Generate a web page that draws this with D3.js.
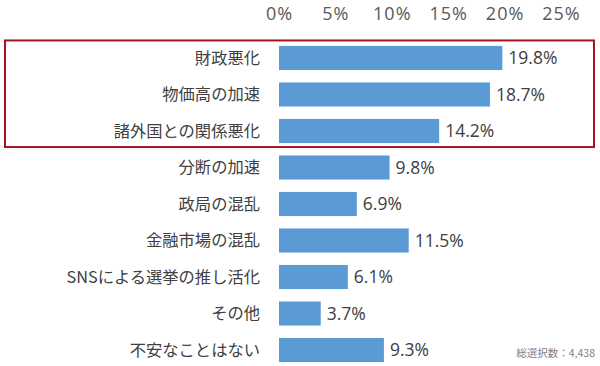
<!DOCTYPE html>
<html><head><meta charset="utf-8">
<script src="https://cdn.jsdelivr.net/npm/d3@7"></script>
<style>body{margin:0;background:#fff}svg{display:block}</style>
</head><body>
<svg id="c" width="600" height="366"></svg>
<script>
const categories = ["財政悪化","物価高の加速","諸外国との関係悪化","分断の加速","政局の混乱","金融市場の混乱","SNSによる選挙の推し活化","その他","不安なことはない"];
const values = [19.8,18.7,14.2,9.8,6.9,11.5,6.1,3.7,9.3];
const tickValues = [0,5,10,15,20,25];
const note = "総選択数：4,438";

const svg = d3.select("#c");
const font = "'Noto Sans CJK JP','Noto Sans',sans-serif";
const numFont = "'Open Sans','Noto Sans CJK JP',sans-serif";
const x = d3.scaleLinear().domain([0,25]).range([279,561]);
const y = d3.scaleBand().domain(categories).range([39.75,368.25]).paddingInner(0.34).paddingOuter(0.17);

// top axis labels
const ax = svg.append("g").attr("transform","translate(0,20)")
  .call(d3.axisTop(x).tickValues(tickValues).tickFormat(d=>d+"%").tickSize(0).tickPadding(0));
ax.select(".domain").remove();
ax.selectAll("text").attr("font-family",numFont).attr("font-size",18).attr("letter-spacing","1px").attr("fill","#595959").attr("dy",0);

// bars
svg.append("g").selectAll("rect").data(values).join("rect")
  .attr("x",x(0)).attr("y",(d,i)=>y(categories[i]))
  .attr("width",d=>x(d)-x(0)).attr("height",y.bandwidth())
  .attr("fill","#5b9bd5");

// value labels
svg.append("g").selectAll("text").data(values).join("text")
  .attr("x",d=>x(d)+6).attr("y",(d,i)=>y(categories[i])+y.bandwidth()/2)
  .attr("dy","0.36em").attr("font-family",numFont).attr("font-size",17.5).attr("fill","#404040")
  .text(d=>d.toFixed(1)+"%");

// category labels
svg.append("g").selectAll("text").data(categories).join("text")
  .attr("x",260).attr("y",d=>y(d)+y.bandwidth()/2)
  .attr("dy","0.36em").attr("text-anchor","end").attr("font-family",font).attr("font-size",16.3).attr("fill","#404040")
  .text(d=>d);

// highlight box around top three
svg.append("rect").attr("x",5).attr("y",y(categories[0])-5.5)
  .attr("width",589).attr("height",y(categories[2])+y.bandwidth()+4-(y(categories[0])-5.5))
  .attr("fill","none").attr("stroke","#a31420").attr("stroke-width",2);

// note
svg.append("text").attr("x",595).attr("y",357).attr("text-anchor","end")
  .attr("font-family",font).attr("font-size",10.5).attr("fill","#7f7f7f").text(note);
</script>
</body></html>
